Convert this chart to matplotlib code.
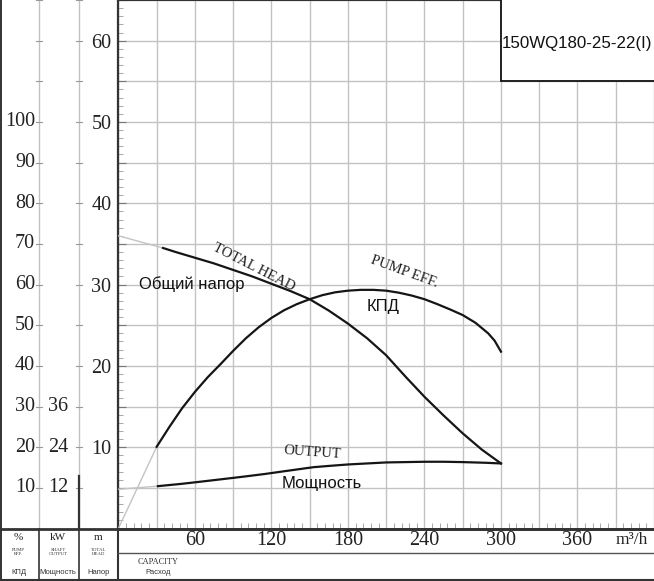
import numpy as np
import matplotlib
matplotlib.use("Agg")
import matplotlib.pyplot as plt
from matplotlib.transforms import blended_transform_factory
from matplotlib.patches import Rectangle

# ---------------- data ----------------
# Total head (m) vs capacity (m3/h)
Q_head = [35, 45, 60, 75, 90, 105, 120, 135, 150, 165, 180, 195, 210, 225, 240, 255, 270, 285, 300]
H_head = [34.5, 34.0, 33.3, 32.6, 31.8, 31.0, 30.1, 29.2, 28.2, 26.8, 25.2, 23.4, 21.3, 18.7, 16.2, 13.9, 11.7, 9.7, 8.0]
Q_head_ext = [0, 35]
H_head_ext = [36.0, 34.5]

# Pump efficiency (%)
Q_eff = [30, 40, 50, 60, 70, 80, 90, 100, 110, 120, 130, 140, 150, 160, 170, 180, 190, 200,
         210, 220, 230, 240, 250, 260, 270, 280, 290, 295, 300]
E_eff = [20.1, 25.0, 29.6, 33.6, 37.2, 40.4, 43.7, 46.8, 49.5, 51.8, 53.7, 55.2, 56.4, 57.4,
         58.1, 58.5, 58.7, 58.7, 58.5, 58.0, 57.3, 56.4, 55.2, 53.9, 52.5, 50.6, 48.0, 46.2, 43.5]
Q_eff_ext = [0, 30]
E_eff_ext = [0, 20.1]

# Shaft power (kW)
Q_pow = [31, 50, 64, 80, 98, 115, 130, 153, 166, 180, 195, 210, 225, 240, 255, 270, 288, 300]
P_pow = [12.5, 13.2, 13.8, 14.5, 15.3, 16.1, 16.9, 18.1, 18.5, 18.9, 19.2, 19.5, 19.6, 19.7,
         19.7, 19.6, 19.4, 19.2]
Q_pow_ext = [0, 31]
P_pow_ext = [11.6, 12.5]

x_ticks_lab = [60, 120, 180, 240, 300, 360]
head_ticks_lab = [10, 20, 30, 40, 50, 60]
eff_ticks_lab = [10, 20, 30, 40, 50, 60, 70, 80, 90, 100]
kw_ticks_lab = [12, 24, 36]
model = "150WQ180-25-22(I)"

SERIF = "Liberation Serif"
SANS = "Liberation Sans"

# ---------------- figure geometry (pixels) ----------------
W, H = 654, 581
fig = plt.figure(figsize=(W / 100, H / 100), dpi=100)
fig.patch.set_facecolor("white")
x0 = 118.4
yb = 528.5
XMAX = 419.3
YMAX = 65.0

ax = fig.add_axes([x0 / W, (H - yb) / H, (W - x0) / W, yb / H])
ax.set_xlim(0, XMAX)
ax.set_ylim(0, YMAX)
ax_eff = ax.twinx()
ax_eff.set_ylim(0, YMAX * 2.0)
ax_kw = ax.twinx()
ax_kw.set_ylim(0, YMAX * 2.4)
for a in (ax_eff, ax_kw):
    a.axis("off")

# overlay in pixel coordinates
ov = fig.add_axes([0, 0, 1, 1], zorder=5)
ov.set_xlim(0, W)
ov.set_ylim(H, 0)
ov.axis("off")
ov.patch.set_alpha(0)

# ---------------- main axes styling ----------------
grid_c = "#c2c2c2"
ax.set_xticks(np.arange(0, 421, 30))
ax.set_xticklabels(["" for _ in np.arange(0, 421, 30)])
ax.set_yticks(np.arange(0, 66, 5))
ax.set_yticklabels([str(v) if v in head_ticks_lab else "" for v in np.arange(0, 66, 5)],
                   fontfamily=SERIF, fontsize=14.5, color="#222")
ax.set_xticks(np.arange(0, 421, 6), minor=True)
ax.set_yticks(np.arange(0, 66, 1), minor=True)
ax.grid(which="major", color=grid_c, lw=1.0)
ax.set_axisbelow(True)
ax.tick_params(axis="x", which="major", length=0)
ax.tick_params(axis="x", which="minor", direction="in", length=4, width=0.6, color="#999")
ax.tick_params(axis="y", which="major", direction="in", length=6, width=0.8, color="#777", pad=5)
ax.tick_params(axis="y", which="minor", direction="in", length=3.5, width=0.6, color="#999")
for s in ("left", "bottom", "top"):
    ax.spines[s].set_color("#333")
ax.spines["left"].set_linewidth(1.6)
ax.spines["bottom"].set_linewidth(2)
ax.spines["top"].set_linewidth(1.5)
ax.spines["right"].set_visible(False)

# x labels at axis positions
for v in x_ticks_lab:
    ax.text(v, -1.42, str(v), ha="center", va="center",
            fontfamily=SERIF, fontsize=14.5, color="#222", clip_on=False)
ax.text(403, -1.42, "m³/h", ha="center", va="center", fontfamily=SERIF, fontsize=12.5,
        color="#222", clip_on=False)

# ---------------- curves ----------------
grey = "#c4c4c4"
blk = "#151515"
ax.plot(Q_head_ext, H_head_ext, color=grey, lw=1.0, zorder=3)
ax.plot(Q_head, H_head, color=blk, lw=1.6, zorder=4)
ax_eff.plot(Q_eff_ext, E_eff_ext, color=grey, lw=1.0, zorder=3)
ax_eff.plot(Q_eff, E_eff, color=blk, lw=1.6, zorder=4)
ax_kw.plot(Q_pow_ext, P_pow_ext, color=grey, lw=1.0, zorder=3)
ax_kw.plot(Q_pow, P_pow, color=blk, lw=1.6, zorder=4)

# curve labels
ax.text(106, 32.1, "TOTAL HEAD", rotation=-27, rotation_mode="anchor", ha="center", va="center",
        fontfamily=SERIF, fontsize=10.5, color="#222")
ax.text(224, 31.6, "PUMP EFF.", rotation=-20, rotation_mode="anchor", ha="center", va="center",
        fontfamily=SERIF, fontsize=10.5, color="#222")
ax.text(152, 9.3, "OUTPUT", rotation=-4, rotation_mode="anchor", ha="center", va="center",
        fontfamily=SERIF, fontsize=10.5, color="#222")
ax.text(57.6, 30.1, "Общий напор", ha="center", va="center", fontfamily=SANS, fontsize=12, color="#111")
ax.text(207.4, 27.3, "КПД", ha="center", va="center", fontfamily=SANS, fontsize=12, color="#111")
ax.text(159.6, 5.56, "Мощность", ha="center", va="center", fontfamily=SANS, fontsize=12, color="#111")

# model box
ax.add_patch(Rectangle((300, 55), 130, 12, facecolor="white", edgecolor="#111", lw=1.3, zorder=6))
ax.text(300.9, 59.6, model, ha="left", va="center", fontfamily=SANS, fontsize=12.2, color="#111", zorder=7)

# ---------------- left panel ----------------
tr_h = blended_transform_factory(ov.transData, ax.transData)
tr_e = blended_transform_factory(ov.transData, ax_eff.transData)
tr_k = blended_transform_factory(ov.transData, ax_kw.transData)
xc1, xc2 = 39.3, 79.3
for xc in (xc1, xc2):
    ov.plot([xc, xc], [0, yb], color=grid_c, lw=1.0)
    for m in range(5, 66, 5):
        ov.plot([xc - 3, xc + 3], [m, m], color="#999", lw=0.8, transform=tr_h)
    ov.plot([xc, xc], [yb, H], color="#333", lw=1.2)
for v in eff_ticks_lab:
    ov.text(35, v, str(v), transform=tr_e, ha="right", va="center", fontfamily=SERIF, fontsize=14.5, color="#222")
for v in kw_ticks_lab:
    ov.text(68, v, str(v), transform=tr_k, ha="right", va="center", fontfamily=SERIF, fontsize=14.5, color="#222")
ov.plot([xc2, xc2], [0, 15.5], color="#333", lw=1.6, transform=tr_k)

# borders / table lines
ov.plot([0.7, 0.7], [0, H], color="#333", lw=1.4)
ov.plot([0, W], [yb, yb], color="#333", lw=2)
ov.plot([x0, x0], [yb, H], color="#333", lw=1.5)
ov.plot([x0, W], [553.3, 553.3], color="#555", lw=1.0)
ov.plot([0, W], [580, 580], color="#333", lw=1.5)

# table texts
cols = [19.6, 59.3, 99.3]
for xc, t in zip(cols, ["%", "kW", "m"]):
    ov.text(xc - 1, 538, t, ha="center", va="center", fontfamily=SERIF, fontsize=8, color="#222")
for xc, t in zip(cols, ["PUMP\nEFF.", "SHAFT\nOUTPUT", "TOTAL\nHEAD"]):
    ov.text(xc - 1, 552, t, ha="center", va="center", fontfamily=SERIF, fontsize=3.5,
            color="#333", linespacing=0.9)
for xc, t in zip(cols, ["КПД", "Мощность", "Напор"]):
    ov.text(xc - 1, 572, t, ha="center", va="center", fontfamily=SANS, fontsize=5.5, color="#333")
ov.text(158, 562, "CAPACITY", ha="center", va="center", fontfamily=SERIF, fontsize=6, color="#333")
ov.text(158, 572, "Расход", ha="center", va="center", fontfamily=SANS, fontsize=5.5, color="#333")

fig.savefig("out.png", dpi=100, facecolor="white")
